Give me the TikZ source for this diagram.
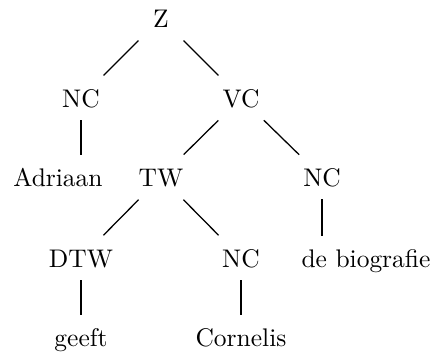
\documentclass[tikz,border=0pt]{standalone}
\begin{document}
\begin{tikzpicture}[x=0.013793cm,y=-0.013793cm,
  lbl/.style={inner sep=0pt,text height=9pt,text depth=1.2pt,anchor=center},
  diag/.style={line width=0.5pt,shorten <=0.44cm,shorten >=0.44cm},
  vert/.style={line width=0.5pt,shorten <=0.31cm,shorten >=0.31cm}]
\useasboundingbox (0,0) rectangle (437,353);
\node[lbl] (z) at (161,18) {Z};
\node[lbl] (nc1) at (81,98) {NC};
\node[lbl] (vc) at (241,98) {VC};
\node[lbl] (adriaan) at (58,177) {Adriaan};
\node[lbl] (tw) at (161,177) {TW};
\node[lbl] (nc2) at (322,177) {NC};
\node[lbl] (dtw) at (81,258) {DTW};
\node[lbl] (nc3) at (241,258) {NC};
\node[lbl] (bio) at (366,258) {de biografie};
\node[lbl] (geeft) at (81,337) {geeft};
\node[lbl] (cornelis) at (241,337) {Cornelis};
\draw[diag] (z.center) -- (nc1.center);
\draw[diag] (z.center) -- (vc.center);
\draw[vert] (nc1.center) -- (nc1.center |- adriaan.center);
\draw[diag] (vc.center) -- (tw.center);
\draw[diag] (vc.center) -- (nc2.center);
\draw[diag] (tw.center) -- (dtw.center);
\draw[diag] (tw.center) -- (nc3.center);
\draw[vert] (nc2.center) -- (nc2.center |- bio.center);
\draw[vert] (dtw.center) -- (geeft.center);
\draw[vert] (nc3.center) -- (cornelis.center);
\end{tikzpicture}
\end{document}
